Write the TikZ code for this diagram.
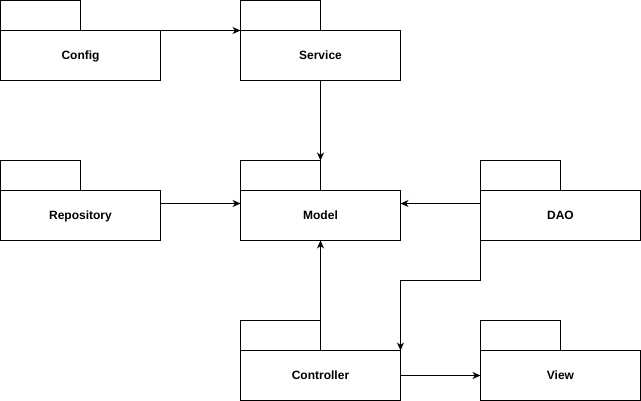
\documentclass[tikz,border=0pt]{standalone}
\usepackage{fontspec}
\setmainfont{Liberation Sans}
\usetikzlibrary{arrows.meta}
\begin{document}
\begin{tikzpicture}[x=1pt,y=-1pt,
  pkgtab/.style={draw=black,line width=1pt,fill=white,minimum width=80pt,minimum height=30pt,inner sep=0pt,outer sep=0pt,anchor=north west},
  pkgbody/.style={draw=black,line width=1pt,fill=white,minimum width=160pt,minimum height=50pt,inner sep=0pt,outer sep=0pt,anchor=north west,text height=9pt,text depth=0pt,font=\fontsize{12}{14}\selectfont\bfseries},
  link/.style={draw=black,line width=1pt,-{Stealth[length=8pt,width=7pt,inset=2.5pt]}}
]
\useasboundingbox (0,0) rectangle (641,401);
% packages: tab on top, body below
\node[pkgtab] (configtab) at (0.5,0.5) {};
\node[pkgbody] (config) at (0.5,30.5) {Config};
\node[pkgtab] (servicetab) at (240.5,0.5) {};
\node[pkgbody] (service) at (240.5,30.5) {Service};
\node[pkgtab] (repotab) at (0.5,160.5) {};
\node[pkgbody] (repo) at (0.5,190.5) {Repository};
\node[pkgtab] (modeltab) at (240.5,160.5) {};
\node[pkgbody] (model) at (240.5,190.5) {Model};
\node[pkgtab] (daotab) at (480.5,160.5) {};
\node[pkgbody] (dao) at (480.5,190.5) {DAO};
\node[pkgtab] (controllertab) at (240.5,320.5) {};
\node[pkgbody] (controller) at (240.5,350.5) {Controller};
\node[pkgtab] (viewtab) at (480.5,320.5) {};
\node[pkgbody] (view) at (480.5,350.5) {View};
% dependencies
\coordinate (bend) at (400.5,280.5);
\draw[link] (config.north east) -- (service.north west);
\draw[link] (service.south) -- (modeltab.north east);
\draw[link] ([yshift=12pt]repo.east) -- ([yshift=12pt]model.west);
\draw[link] ([yshift=12pt]dao.west) -- ([yshift=12pt]model.east);
\draw[link] (controllertab.north east) -- (model.south);
\draw[link] (dao.south west) |- (bend) -- (controller.north east);
\draw[link] (controller.east) -- (view.west);
\end{tikzpicture}
\end{document}
